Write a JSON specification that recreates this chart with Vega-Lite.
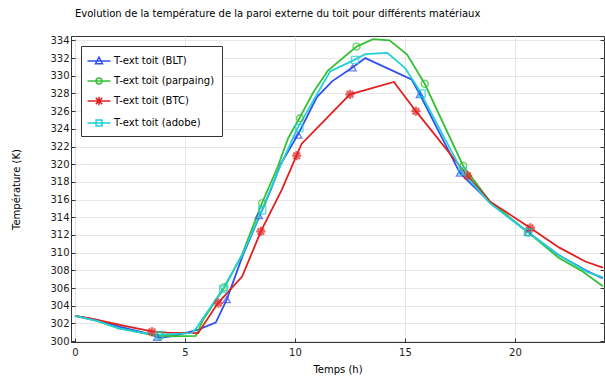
{
  "$schema": "https://vega.github.io/schema/vega-lite/v6.json",
  "width": 533,
  "height": 306,
  "autosize": {"type": "none"},
  "padding": {"left": 71, "top": 36, "right": 1, "bottom": 39},
  "background": "white",
  "title": {"text": "Evolution de la température de la paroi externe du toit pour différents matériaux", "anchor": "start", "frame": "group", "offset": 16, "dx": 4, "font": "DejaVu Sans", "fontSize": 10, "fontWeight": "normal", "color": "#000"},
  "config": {
    "view": {"stroke": "#333", "strokeWidth": 1},
    "axis": {"labelFont": "DejaVu Sans", "labelFontSize": 10, "labelColor": "#222", "titleFont": "DejaVu Sans", "titleFontSize": 10, "titleFontWeight": "normal", "titleColor": "#000", "gridColor": "#e6e6e6", "gridWidth": 1, "domainColor": "#333", "tickColor": "#333", "tickSize": -4}
  },
  "datasets": {
    "lines": [
      {"s": "T-ext toit (BLT)", "t": 0, "T": 302.85}, {"s": "T-ext toit (BLT)", "t": 1, "T": 302.4}, {"s": "T-ext toit (BLT)", "t": 2, "T": 301.65}, {"s": "T-ext toit (BLT)", "t": 3, "T": 301.05}, {"s": "T-ext toit (BLT)", "t": 3.5, "T": 300.7}, {"s": "T-ext toit (BLT)", "t": 3.8, "T": 300.4}, {"s": "T-ext toit (BLT)", "t": 4.3, "T": 300.5}, {"s": "T-ext toit (BLT)", "t": 5, "T": 300.9}, {"s": "T-ext toit (BLT)", "t": 5.6, "T": 301.3}, {"s": "T-ext toit (BLT)", "t": 6.4, "T": 302.1}, {"s": "T-ext toit (BLT)", "t": 6.9, "T": 304.7}, {"s": "T-ext toit (BLT)", "t": 7.6, "T": 309.5}, {"s": "T-ext toit (BLT)", "t": 8.4, "T": 314.2}, {"s": "T-ext toit (BLT)", "t": 8.9, "T": 317.1}, {"s": "T-ext toit (BLT)", "t": 9.35, "T": 320.0}, {"s": "T-ext toit (BLT)", "t": 10.15, "T": 323.4}, {"s": "T-ext toit (BLT)", "t": 11.0, "T": 327.6}, {"s": "T-ext toit (BLT)", "t": 11.7, "T": 329.4}, {"s": "T-ext toit (BLT)", "t": 12.6, "T": 330.9}, {"s": "T-ext toit (BLT)", "t": 13.2, "T": 332.0}, {"s": "T-ext toit (BLT)", "t": 15.3, "T": 329.6}, {"s": "T-ext toit (BLT)", "t": 15.7, "T": 327.8}, {"s": "T-ext toit (BLT)", "t": 17.5, "T": 319.0}, {"s": "T-ext toit (BLT)", "t": 18.9, "T": 315.6}, {"s": "T-ext toit (BLT)", "t": 20.6, "T": 312.3}, {"s": "T-ext toit (BLT)", "t": 22.0, "T": 309.7}, {"s": "T-ext toit (BLT)", "t": 23.3, "T": 307.9}, {"s": "T-ext toit (BLT)", "t": 24, "T": 307.1},
      {"s": "T-ext toit (parpaing)", "t": 0, "T": 302.85}, {"s": "T-ext toit (parpaing)", "t": 1, "T": 302.3}, {"s": "T-ext toit (parpaing)", "t": 2, "T": 301.45}, {"s": "T-ext toit (parpaing)", "t": 3, "T": 300.95}, {"s": "T-ext toit (parpaing)", "t": 3.6, "T": 300.65}, {"s": "T-ext toit (parpaing)", "t": 4.5, "T": 300.55}, {"s": "T-ext toit (parpaing)", "t": 5.5, "T": 300.6}, {"s": "T-ext toit (parpaing)", "t": 5.8, "T": 302.3}, {"s": "T-ext toit (parpaing)", "t": 6.8, "T": 306.1}, {"s": "T-ext toit (parpaing)", "t": 7.6, "T": 309.8}, {"s": "T-ext toit (parpaing)", "t": 8.5, "T": 315.6}, {"s": "T-ext toit (parpaing)", "t": 9.2, "T": 319.6}, {"s": "T-ext toit (parpaing)", "t": 9.7, "T": 323.0}, {"s": "T-ext toit (parpaing)", "t": 10.2, "T": 325.2}, {"s": "T-ext toit (parpaing)", "t": 10.85, "T": 328.2}, {"s": "T-ext toit (parpaing)", "t": 11.5, "T": 330.6}, {"s": "T-ext toit (parpaing)", "t": 12.8, "T": 333.3}, {"s": "T-ext toit (parpaing)", "t": 13.55, "T": 334.15}, {"s": "T-ext toit (parpaing)", "t": 14.3, "T": 334.0}, {"s": "T-ext toit (parpaing)", "t": 15.1, "T": 332.4}, {"s": "T-ext toit (parpaing)", "t": 15.9, "T": 329.1}, {"s": "T-ext toit (parpaing)", "t": 17.65, "T": 319.8}, {"s": "T-ext toit (parpaing)", "t": 18.86, "T": 315.8}, {"s": "T-ext toit (parpaing)", "t": 20.6, "T": 312.3}, {"s": "T-ext toit (parpaing)", "t": 22.0, "T": 309.4}, {"s": "T-ext toit (parpaing)", "t": 23.0, "T": 308.0}, {"s": "T-ext toit (parpaing)", "t": 24, "T": 306.2},
      {"s": "T-ext toit (BTC)", "t": 0, "T": 302.85}, {"s": "T-ext toit (BTC)", "t": 0.8, "T": 302.5}, {"s": "T-ext toit (BTC)", "t": 2.3, "T": 301.7}, {"s": "T-ext toit (BTC)", "t": 3.5, "T": 301.1}, {"s": "T-ext toit (BTC)", "t": 4.2, "T": 300.95}, {"s": "T-ext toit (BTC)", "t": 5.6, "T": 300.9}, {"s": "T-ext toit (BTC)", "t": 6.5, "T": 304.3}, {"s": "T-ext toit (BTC)", "t": 7.6, "T": 307.3}, {"s": "T-ext toit (BTC)", "t": 8.45, "T": 312.4}, {"s": "T-ext toit (BTC)", "t": 9.4, "T": 317.1}, {"s": "T-ext toit (BTC)", "t": 10.3, "T": 322.3}, {"s": "T-ext toit (BTC)", "t": 12.5, "T": 327.9}, {"s": "T-ext toit (BTC)", "t": 14.5, "T": 329.3}, {"s": "T-ext toit (BTC)", "t": 15.5, "T": 326.0}, {"s": "T-ext toit (BTC)", "t": 17.85, "T": 318.7}, {"s": "T-ext toit (BTC)", "t": 18.86, "T": 315.8}, {"s": "T-ext toit (BTC)", "t": 20.7, "T": 312.8}, {"s": "T-ext toit (BTC)", "t": 22.0, "T": 310.6}, {"s": "T-ext toit (BTC)", "t": 23.2, "T": 309.0}, {"s": "T-ext toit (BTC)", "t": 24, "T": 308.3},
      {"s": "T-ext toit (adobe)", "t": 0, "T": 302.85}, {"s": "T-ext toit (adobe)", "t": 1, "T": 302.3}, {"s": "T-ext toit (adobe)", "t": 2, "T": 301.45}, {"s": "T-ext toit (adobe)", "t": 3, "T": 300.95}, {"s": "T-ext toit (adobe)", "t": 3.7, "T": 300.7}, {"s": "T-ext toit (adobe)", "t": 5.3, "T": 300.9}, {"s": "T-ext toit (adobe)", "t": 5.5, "T": 301.4}, {"s": "T-ext toit (adobe)", "t": 6.7, "T": 305.8}, {"s": "T-ext toit (adobe)", "t": 7.6, "T": 309.7}, {"s": "T-ext toit (adobe)", "t": 8.5, "T": 314.8}, {"s": "T-ext toit (adobe)", "t": 9.3, "T": 319.6}, {"s": "T-ext toit (adobe)", "t": 10.1, "T": 324.0}, {"s": "T-ext toit (adobe)", "t": 11.6, "T": 330.5}, {"s": "T-ext toit (adobe)", "t": 12.7, "T": 331.8}, {"s": "T-ext toit (adobe)", "t": 13.2, "T": 332.45}, {"s": "T-ext toit (adobe)", "t": 14.2, "T": 332.6}, {"s": "T-ext toit (adobe)", "t": 15.0, "T": 330.9}, {"s": "T-ext toit (adobe)", "t": 15.6, "T": 328.6}, {"s": "T-ext toit (adobe)", "t": 17.6, "T": 319.2}, {"s": "T-ext toit (adobe)", "t": 18.86, "T": 315.6}, {"s": "T-ext toit (adobe)", "t": 20.6, "T": 312.3}, {"s": "T-ext toit (adobe)", "t": 22.0, "T": 309.7}, {"s": "T-ext toit (adobe)", "t": 23.3, "T": 307.8}, {"s": "T-ext toit (adobe)", "t": 24, "T": 307.2}
    ],
    "marks": [
      {"s": "T-ext toit (BLT)", "t": 3.74, "T": 300.45}, {"s": "T-ext toit (BLT)", "t": 6.9, "T": 304.7}, {"s": "T-ext toit (BLT)", "t": 8.36, "T": 314.2}, {"s": "T-ext toit (BLT)", "t": 10.15, "T": 323.3}, {"s": "T-ext toit (BLT)", "t": 12.62, "T": 330.9}, {"s": "T-ext toit (BLT)", "t": 15.68, "T": 327.9}, {"s": "T-ext toit (BLT)", "t": 17.5, "T": 319.0}, {"s": "T-ext toit (BLT)", "t": 20.6, "T": 312.3},
      {"s": "T-ext toit (parpaing)", "t": 3.85, "T": 300.6}, {"s": "T-ext toit (parpaing)", "t": 6.79, "T": 306.1}, {"s": "T-ext toit (parpaing)", "t": 8.51, "T": 315.6}, {"s": "T-ext toit (parpaing)", "t": 10.23, "T": 325.2}, {"s": "T-ext toit (parpaing)", "t": 12.8, "T": 333.3}, {"s": "T-ext toit (parpaing)", "t": 15.9, "T": 329.1}, {"s": "T-ext toit (parpaing)", "t": 17.65, "T": 319.8}, {"s": "T-ext toit (parpaing)", "t": 20.6, "T": 312.3},
      {"s": "T-ext toit (BTC)", "t": 3.5, "T": 301.05}, {"s": "T-ext toit (BTC)", "t": 6.52, "T": 304.3}, {"s": "T-ext toit (BTC)", "t": 8.45, "T": 312.4}, {"s": "T-ext toit (BTC)", "t": 10.08, "T": 320.97}, {"s": "T-ext toit (BTC)", "t": 12.5, "T": 327.9}, {"s": "T-ext toit (BTC)", "t": 15.5, "T": 326.0}, {"s": "T-ext toit (BTC)", "t": 17.85, "T": 318.7}, {"s": "T-ext toit (BTC)", "t": 20.7, "T": 312.8},
      {"s": "T-ext toit (adobe)", "t": 3.85, "T": 300.7}, {"s": "T-ext toit (adobe)", "t": 6.74, "T": 305.9}, {"s": "T-ext toit (adobe)", "t": 8.51, "T": 314.8}, {"s": "T-ext toit (adobe)", "t": 10.2, "T": 324.1}, {"s": "T-ext toit (adobe)", "t": 12.73, "T": 331.8}, {"s": "T-ext toit (adobe)", "t": 15.76, "T": 328.0}, {"s": "T-ext toit (adobe)", "t": 17.6, "T": 319.2}, {"s": "T-ext toit (adobe)", "t": 20.6, "T": 312.3}
    ]
  },
  "layer": [
    {
      "data": {"name": "lines"},
      "mark": {"type": "line", "strokeWidth": 1.8, "clip": true},
      "encoding": {
        "x": {"field": "t", "type": "quantitative", "scale": {"domain": [-0.18, 24.05], "nice": false, "zero": false}, "axis": {"values": [0, 5, 10, 15, 20], "title": "Temps (h)", "labelPadding": 9, "titlePadding": 7, "grid": true}},
        "y": {"field": "T", "type": "quantitative", "scale": {"domain": [299.9, 334.5], "nice": false, "zero": false}, "axis": {"values": [300, 302, 304, 306, 308, 310, 312, 314, 316, 318, 320, 322, 324, 326, 328, 330, 332, 334], "title": "Température (K)", "labelPadding": 6, "titlePadding": 28, "grid": true}},
        "color": {
          "field": "s", "type": "nominal",
          "scale": {"domain": ["T-ext toit (BLT)", "T-ext toit (parpaing)", "T-ext toit (BTC)", "T-ext toit (adobe)"], "range": ["#3050f0", "#36c036", "#e02020", "#20d0d8"]},
          "legend": {
            "title": null, "orient": "top-left", "offset": 10, "padding": 7, "strokeColor": "#333", "fillColor": "white",
            "labelFont": "DejaVu Sans", "labelFontSize": 10, "labelColor": "#000", "labelLimit": 300,
            "symbolSize": 196, "symbolStrokeWidth": 1.5, "symbolOffset": 3, "labelOffset": 7, "rowPadding": 6,
            "encode": {"symbols": {"update": {
              "fill": {"value": "transparent"},
              "shape": {"signal": "datum.value === 'T-ext toit (BLT)' ? 'M-1.64,0L1.64,0M0,-0.55L0.5,0.38L-0.5,0.38Z' : datum.value === 'T-ext toit (parpaing)' ? 'M-1.64,0L1.64,0M0.42,0A0.42,0.42,0,1,1,-0.42,0A0.42,0.42,0,1,1,0.42,0' : datum.value === 'T-ext toit (BTC)' ? 'M-1.64,0L1.64,0M0,-0.6L0,0.6M-0.45,-0.45L0.45,0.45M-0.45,0.45L0.45,-0.45' : 'M-1.64,0L1.64,0M-0.42,-0.42L0.42,-0.42L0.42,0.42L-0.42,0.42Z'"}
            }}}
          }
        }
      }
    },
    {
      "data": {"name": "marks"},
      "transform": [{"filter": "datum.s === 'T-ext toit (BLT)'"}],
      "mark": {"type": "point", "shape": "triangle-up", "filled": false, "size": 50, "strokeWidth": 1.4, "clip": true},
      "encoding": {
        "x": {"field": "t", "type": "quantitative"},
        "y": {"field": "T", "type": "quantitative", "axis": {"orient": "right", "labels": false, "grid": false, "domain": false, "title": null, "values": [300, 302, 304, 306, 308, 310, 312, 314, 316, 318, 320, 322, 324, 326, 328, 330, 332, 334]}},
        "color": {"field": "s", "type": "nominal"}
      }
    },
    {
      "data": {"name": "marks"},
      "transform": [{"filter": "datum.s === 'T-ext toit (parpaing)'"}],
      "mark": {"type": "point", "shape": "circle", "filled": false, "size": 50, "strokeWidth": 1.4, "clip": true},
      "encoding": {
        "x": {"field": "t", "type": "quantitative"},
        "y": {"field": "T", "type": "quantitative", "axis": null},
        "color": {"field": "s", "type": "nominal"}
      }
    },
    {
      "data": {"name": "marks"},
      "transform": [{"filter": "datum.s === 'T-ext toit (BTC)'"}],
      "mark": {"type": "point", "shape": "M-1.3,0L1.3,0M0,-1.3L0,1.3M-0.92,-0.92L0.92,0.92M-0.92,0.92L0.92,-0.92", "filled": false, "size": 50, "strokeWidth": 2.2, "clip": true},
      "encoding": {
        "x": {"field": "t", "type": "quantitative"},
        "y": {"field": "T", "type": "quantitative", "axis": null},
        "color": {"field": "s", "type": "nominal"}
      }
    },
    {
      "data": {"name": "marks"},
      "transform": [{"filter": "datum.s === 'T-ext toit (adobe)'"}],
      "mark": {"type": "point", "shape": "square", "filled": false, "size": 50, "strokeWidth": 1.4, "clip": true},
      "encoding": {
        "x": {"field": "t", "type": "quantitative"},
        "y": {"field": "T", "type": "quantitative", "axis": null},
        "color": {"field": "s", "type": "nominal"}
      }
    }
  ],
  "resolve": {"axis": {"y": "independent"}}
}
